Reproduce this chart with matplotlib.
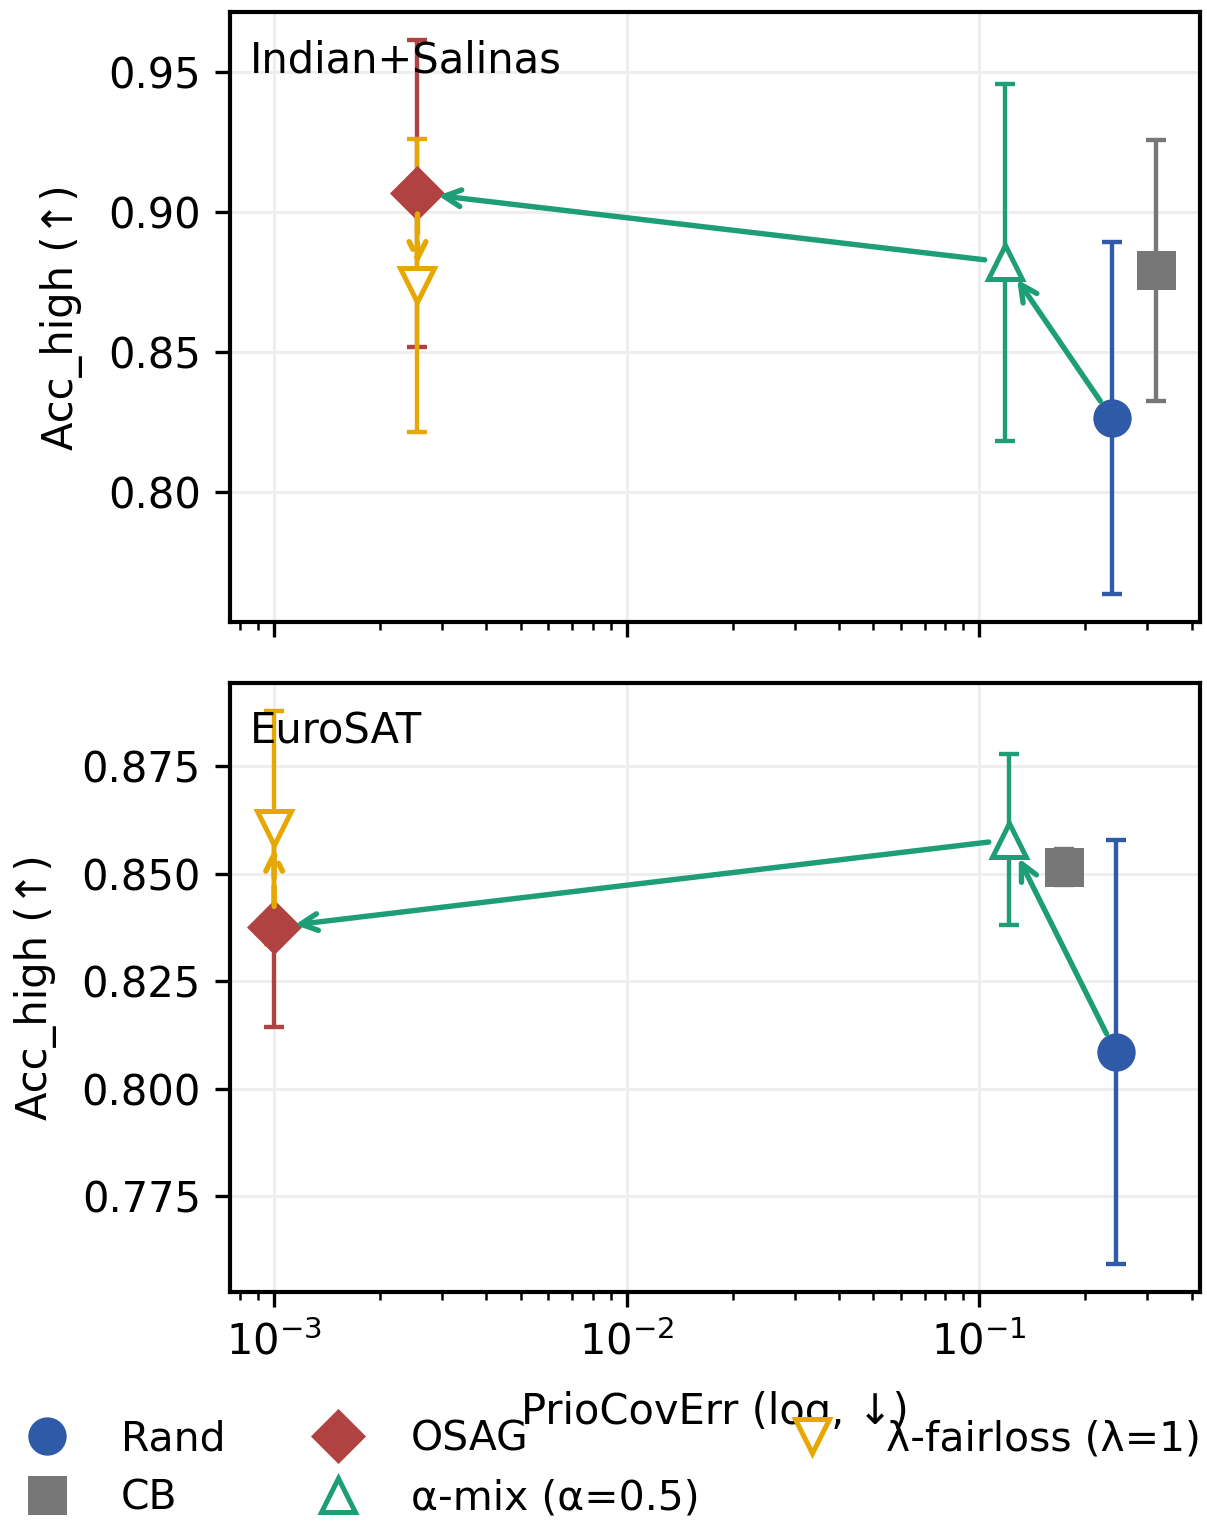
import numpy as np
import matplotlib
matplotlib.use("Agg")
import matplotlib.pyplot as plt
from matplotlib.lines import Line2D

plt.rcParams['font.family'] = ['DejaVu Sans']
plt.rcParams['font.size'] = 10

# methods: Rand, CB, OSAG, alpha-mix, lambda-fairloss
methods = ["Rand", "CB", "OSAG", "α-mix (α=0.5)", "λ-fairloss (λ=1)"]
colors = ["#2E5AA8", "#777777", "#B04242", "#1E9E76", "#E6A800"]
markers = ["o", "s", "D", "^", "v"]
open_face = [False, False, False, True, True]

datasets = ["Indian+Salinas", "EuroSAT"]

# PrioCovErr (x), Acc_high mean (y), Acc_high std (err)
x_indian = [0.238, 0.317, 0.00255, 0.1186, 0.00255]
y_indian = [0.8264, 0.8793, 0.9068, 0.8821, 0.8739]
e_indian = [0.0629, 0.0466, 0.0548, 0.0638, 0.0524]

x_euro = [0.244, 0.1734, 0.0010, 0.1218, 0.0010]
y_euro = [0.8085, 0.8517, 0.8376, 0.8580, 0.8608]
e_euro = [0.0493, 0.0042, 0.0233, 0.0199, 0.0272]

# arrows (from index -> to index, colour index, dashed)
arrows = [(0, 3, 3, False), (3, 2, 3, False), (2, 4, 4, True)]

fig = plt.figure(figsize=(1207 / 300, 1521 / 300), dpi=300)
ax1 = fig.add_axes([0.1906, 0.5911, 0.8036, 0.4010])
ax2 = fig.add_axes([0.1906, 0.1506, 0.8036, 0.4004], sharex=ax1)

for ax, name, xs, ys, es in [(ax1, datasets[0], x_indian, y_indian, e_indian),
                             (ax2, datasets[1], x_euro, y_euro, e_euro)]:
    for i in range(len(methods)):
        ax.errorbar(xs[i], ys[i], yerr=es[i], fmt="none", ecolor=colors[i],
                    elinewidth=1.05, capsize=2.4, capthick=1.05, zorder=2)
        ax.plot(xs[i], ys[i], marker=markers[i], ms=8, color=colors[i],
                mfc="white" if open_face[i] else colors[i], mew=1.2,
                linestyle="none", zorder=3)
    for a, b, c, dashed in arrows:
        ax.annotate("", xy=(xs[b], ys[b]), xytext=(xs[a], ys[a]),
                    arrowprops=dict(arrowstyle="->", color=colors[c], lw=1.3,
                                    linestyle="--" if dashed else "-",
                                    shrinkA=5, shrinkB=5),
                    zorder=4)
    ax.set_xscale("log")
    ax.grid(True, which="major", color="#eeeeee", linewidth=0.7)
    ax.set_axisbelow(True)
    ax.set_ylabel("Acc_high (↑)", labelpad=6)
    ax.text(0.02, 0.955, name, transform=ax.transAxes, ha="left", va="top", zorder=5)
    for s in ax.spines.values():
        s.set_linewidth(1.0)

ax1.tick_params(labelbottom=False)
ax2.set_xlabel("PrioCovErr (log, ↓)", labelpad=6.5)

handles = [Line2D([], [], marker=markers[i], ms=8, color=colors[i], linestyle="none",
                  mfc="white" if open_face[i] else colors[i], mew=1.2)
           for i in range(len(methods))]
fig.legend(handles, methods, loc="lower center", bbox_to_anchor=(0.5, -0.009),
           ncol=3, frameon=False, borderaxespad=0, columnspacing=1.75,
           labelspacing=0.47, fontsize=9.8)

fig.savefig("out.png", dpi=300)
